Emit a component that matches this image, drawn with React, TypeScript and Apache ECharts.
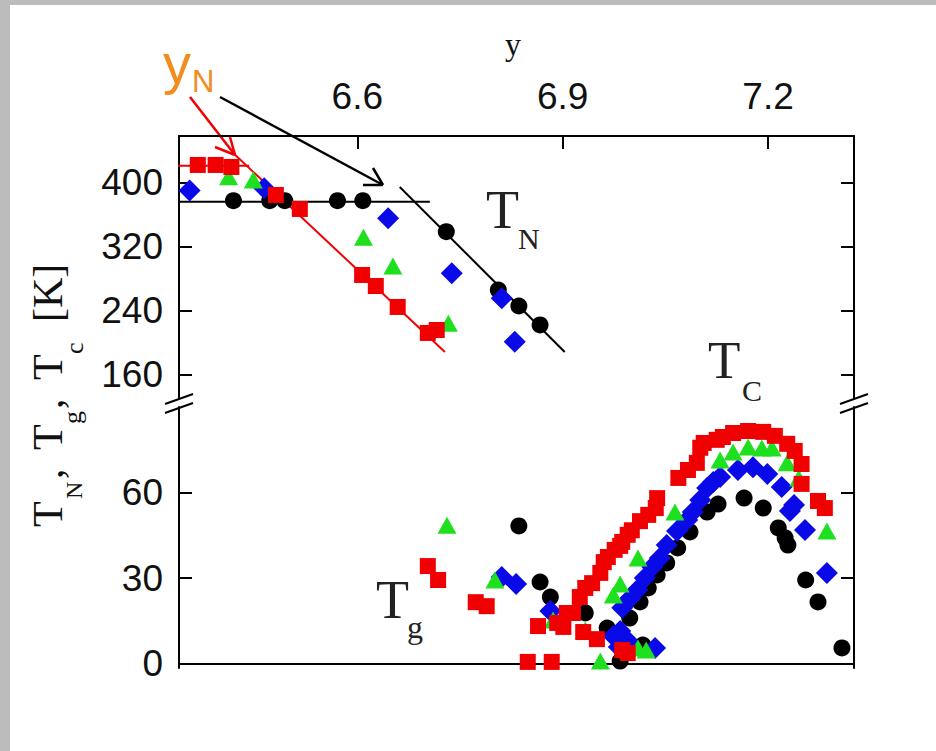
import React, { useEffect, useRef } from "react";
import * as echarts from "echarts";

// ---- axis ticks ----
const xTicks = [6.6, 6.9, 7.2];
const upperTicks = [160, 240, 320, 400];
const lowerTicks = [0, 30, 60];

// ---- upper panel (T_N) ----
const redUpper = [[6.367, 421.9], [6.393, 421.9], [6.416, 419.4], [6.481, 384.4], [6.516, 366.9], [6.607, 284.4], [6.627, 270.6], [6.659, 244.4], [6.703, 211.9], [6.716, 215.6]];
const greenUpper = [[6.412, 407.2], [6.448, 403.1], [6.609, 331.5], [6.652, 295.6], [6.733, 224.0]];
const blueUpper = [[6.355, 390.0], [6.464, 392.7], [6.645, 355.3], [6.738, 286.5], [6.811, 255.3], [6.830, 201.0]];
const blackUpper = [[6.419, 377.2], [6.472, 377.2], [6.494, 377.2], [6.571, 377.2], [6.608, 377.2], [6.730, 338.5], [6.806, 265.6], [6.836, 245.6], [6.867, 221.9]];

// fit lines (upper panel)
const redPlateau = [[6.334, 421], [6.442, 421]];
const redSlope = [[6.417, 438.1], [6.728, 188.1]];
const blackPlateau = [[6.334, 376], [6.706, 376]];
const blackSlope = [[6.662, 394.4], [6.903, 188.1]];

// ---- lower panel (T_g, T_C) ----
const redLower = [[6.703, 34.2], [6.718, 29.3], [6.773, 21.5], [6.789, 20.1], [6.849, 0.5], [6.884, 0.5], [6.864, 13.1], [6.892, 14.2], [6.901, 12.8], [6.906, 17.7], [6.915, 17.7], [6.925, 23.3], [6.930, 11.0], [6.933, 26.5], [6.943, 28.2], [6.950, 8.5], [6.955, 31.8], [6.960, 35.6], [6.966, 37.4], [6.976, 39.9], [6.984, 41.3], [6.987, 4.7], [6.995, 3.6], [6.987, 42.7], [6.995, 45.2], [7.001, 46.8], [7.013, 50.0], [7.025, 52.2], [7.036, 54.6], [7.038, 58.1], [7.069, 65.2], [7.083, 68.0], [7.096, 70.5], [7.101, 75.8], [7.106, 77.5], [7.125, 78.6], [7.134, 79.6], [7.149, 81.0], [7.171, 81.7], [7.193, 81.4], [7.210, 80.0], [7.228, 77.2], [7.239, 74.7], [7.249, 70.1], [7.249, 63.1], [7.273, 57.1], [7.283, 54.6]];
const greenLower = [[6.731, 48.6], [6.801, 29.3], [6.886, 15.2], [6.933, 11.7], [6.955, 0.8], [7.010, 5.4], [7.022, 4.7], [6.974, 24.0], [6.984, 27.9], [7.010, 37.0], [7.064, 53.2], [7.130, 71.5], [7.149, 74.3], [7.171, 76.1], [7.191, 75.7], [7.206, 75.7], [7.228, 70.5], [7.245, 65.2], [7.286, 46.5]];
const blueLower = [[6.811, 30.4], [6.832, 27.9], [6.882, 18.4], [6.974, 9.6], [6.984, 11.4], [6.995, 7.9], [6.982, 5.7], [7.035, 5.4], [6.987, 19.5], [6.999, 23.0], [7.009, 25.8], [7.020, 30.0], [7.031, 33.9], [7.042, 37.0], [7.052, 41.6], [7.067, 46.5], [7.082, 50.4], [7.090, 53.2], [7.101, 57.4], [7.111, 61.7], [7.120, 63.8], [7.130, 65.5], [7.156, 68.0], [7.178, 69.0], [7.199, 66.6], [7.220, 62.0], [7.232, 53.6], [7.238, 55.7], [7.254, 46.9], [7.286, 31.8]];
const blackLower = [[6.836, 48.3], [6.867, 28.6], [6.882, 23.3], [6.933, 17.7], [6.965, 12.4], [6.984, 0.8], [6.998, 15.9], [7.013, 21.6], [7.025, 26.5], [7.038, 31.1], [7.052, 35.3], [7.068, 40.6], [7.086, 46.2], [7.111, 53.2], [7.127, 56.0], [7.165, 58.1], [7.193, 54.6], [7.215, 47.6], [7.225, 44.1], [7.229, 41.6], [7.255, 29.3], [7.273, 21.6], [7.308, 5.4], [7.017, 6.4]];

const X_MIN = 6.3395;
const X_MAX = 7.3256;
const UP_MIN = 130.6;
const UP_MAX = 458.1;
const LO_MIN = -1.65;
const LO_MAX = 90.15;

const RED = "#f00000";
const GREEN = "#1fe01f";
const BLUE = "#0a0ae8";
const BLACK = "#000000";
const ORANGE = "#f28c1e";

const SANS = '"Liberation Sans", Arial, sans-serif';
const SERIF = '"Liberation Serif", "Times New Roman", serif';

function txt(text: string, x: number, y: number, size: number, family: string, fill: string, align = "left", valign = "middle") {
  return {
    type: "text",
    x,
    y,
    style: {
      text,
      fontSize: size,
      fontFamily: family,
      fill,
      align,
      verticalAlign: valign,
      textAlign: align,
      textVerticalAlign: valign,
    },
  };
}

function ln(x1: number, y1: number, x2: number, y2: number, color: string, w = 2.5) {
  return {
    type: "line",
    shape: { x1, y1, x2, y2 },
    style: { stroke: color, lineWidth: w },
  };
}

export default function App() {
  const ref = useRef<HTMLDivElement>(null);

  useEffect(() => {
    if (!ref.current) return;
    const chart = echarts.init(ref.current, undefined, { renderer: "svg" });

    const axisLine = { show: true, lineStyle: { color: "#000", width: 2 } };
    const tickStyle = { color: "#000", width: 2 };
    const labelStyle = { color: "#111", fontSize: 37, fontFamily: SANS };

    const scatter = (name: string, data: number[][], sym: string, size: any, color: string, xi: number, yi: number, z: number) => ({
      name,
      type: "scatter",
      xAxisIndex: xi,
      yAxisIndex: yi,
      data,
      symbol: sym,
      symbolSize: size,
      itemStyle: { color, opacity: 1 },
      z,
      silent: true,
    });

    const fit = (data: number[][], color: string) => ({
      type: "line",
      xAxisIndex: 0,
      yAxisIndex: 0,
      data,
      showSymbol: false,
      symbol: "none",
      clip: false,
      lineStyle: { color, width: 2 },
      z: 1,
      silent: true,
    });

    chart.setOption({
      animation: false,
      backgroundColor: "#ffffff",
      grid: [
        { left: 179, top: 136, width: 675, height: 262 },
        { left: 179, top: 407, width: 675, height: 261 },
      ],
      xAxis: [
        {
          gridIndex: 0,
          type: "value",
          position: "top",
          min: X_MIN,
          max: X_MAX,
          axisLine,
          axisTick: { show: true, inside: true, length: 13, lineStyle: tickStyle, customValues: xTicks },
          axisLabel: { ...labelStyle, margin: 21, customValues: xTicks, formatter: (v: number) => v.toFixed(1) },
          splitLine: { show: false },
        },
        {
          gridIndex: 1,
          type: "value",
          position: "bottom",
          min: X_MIN,
          max: X_MAX,
          axisLine,
          axisTick: { show: false },
          axisLabel: { show: false },
          splitLine: { show: false },
        },
      ],
      yAxis: [
        {
          gridIndex: 0,
          type: "value",
          position: "left",
          min: UP_MIN,
          max: UP_MAX,
          axisLine,
          axisTick: { show: true, inside: true, length: 13, lineStyle: tickStyle, customValues: upperTicks },
          axisLabel: { ...labelStyle, margin: 16, customValues: upperTicks },
          splitLine: { show: false },
        },
        {
          gridIndex: 0,
          type: "value",
          position: "right",
          min: UP_MIN,
          max: UP_MAX,
          axisLine,
          axisTick: { show: true, inside: true, length: 13, lineStyle: tickStyle, customValues: upperTicks },
          axisLabel: { show: false },
          splitLine: { show: false },
        },
        {
          gridIndex: 1,
          type: "value",
          position: "left",
          min: LO_MIN,
          max: LO_MAX,
          axisLine,
          axisTick: { show: true, inside: true, length: 13, lineStyle: tickStyle, customValues: lowerTicks },
          axisLabel: { ...labelStyle, margin: 16, customValues: lowerTicks },
          splitLine: { show: false },
        },
        {
          gridIndex: 1,
          type: "value",
          position: "right",
          min: LO_MIN,
          max: LO_MAX,
          axisLine,
          axisTick: { show: true, inside: true, length: 13, lineStyle: tickStyle, customValues: lowerTicks },
          axisLabel: { show: false },
          splitLine: { show: false },
        },
      ],
      series: [
        fit(redPlateau, RED),
        fit(redSlope, RED),
        fit(blackPlateau, BLACK),
        fit(blackSlope, BLACK),
        scatter("black-u", blackUpper, "circle", 17, BLACK, 0, 0, 2),
        scatter("blue-u", blueUpper, "diamond", [22, 22], BLUE, 0, 0, 3),
        scatter("green-u", greenUpper, "triangle", [19, 17], GREEN, 0, 0, 4),
        scatter("red-u", redUpper, "rect", 16, RED, 0, 0, 5),
        scatter("black-l", blackLower, "circle", 17, BLACK, 1, 2, 2),
        scatter("blue-l", blueLower, "diamond", [22, 22], BLUE, 1, 2, 3),
        scatter("green-l", greenLower, "triangle", [19, 17], GREEN, 1, 2, 4),
        scatter("red-l", redLower, "rect", 16, RED, 1, 2, 5),
      ],
      graphic: [
        { type: "rect", shape: { x: 0, y: 0, width: 10, height: 751 }, style: { fill: "#bcbcbc" }, z: 100 },
        { type: "rect", shape: { x: 0, y: 0, width: 936, height: 5 }, style: { fill: "#bcbcbc" }, z: 100 },
        // axis breaks
        ln(165, 404, 193, 394, "#000", 2),
        ln(165, 413, 193, 403, "#000", 2),
        ln(840, 404, 868, 394, "#000", 2),
        ln(840, 413, 868, 403, "#000", 2),
        // x axis name
        txt("y", 513, 44, 32, SERIF, "#111", "center", "middle"),
        // y_N annotation
        txt("y", 163, 63, 56, SANS, ORANGE),
        txt("N", 192, 81, 31, SANS, ORANGE),
        ln(190, 97, 235, 155, RED),
        ln(235, 155, 215, 147, RED),
        ln(235, 155, 230, 137, RED),
        ln(220, 97, 383, 185, "#000"),
        ln(383, 185, 363, 185, "#000"),
        ln(383, 185, 373, 168, "#000"),
        // T_N, T_C, T_g
        txt("T", 486, 210, 54, SERIF, "#222"),
        txt("N", 518, 238, 30, SERIF, "#222"),
        txt("T", 708, 360, 53, SERIF, "#222"),
        txt("C", 742, 390, 30, SERIF, "#222"),
        txt("T", 376, 600, 54, SERIF, "#222"),
        txt("g", 407, 627, 32, SERIF, "#222"),
        // y axis title (rotated)
        {
          type: "group",
          x: 48,
          y: 527,
          rotation: Math.PI / 2,
          children: [
            txt("T", 0, 0, 42, SERIF, "#111"),
            txt("N", 28, 26, 24, SERIF, "#111"),
            txt(",", 48, 0, 42, SERIF, "#111"),
            txt("T", 77, 0, 42, SERIF, "#111"),
            txt("g", 103, 24, 26, SERIF, "#111"),
            txt(",", 118, 0, 42, SERIF, "#111"),
            txt("T", 147, 0, 42, SERIF, "#111"),
            txt("c", 173, 26, 26, SERIF, "#111"),
            txt("[K]", 205, 0, 42, SERIF, "#111"),
          ],
        },
      ],
    });

    return () => chart.dispose();
  }, []);

  return (
    <div
      ref={ref}
      style={{ position: "fixed", left: 0, top: 0, width: 936, height: 751, background: "#fff" }}
    />
  );
}
